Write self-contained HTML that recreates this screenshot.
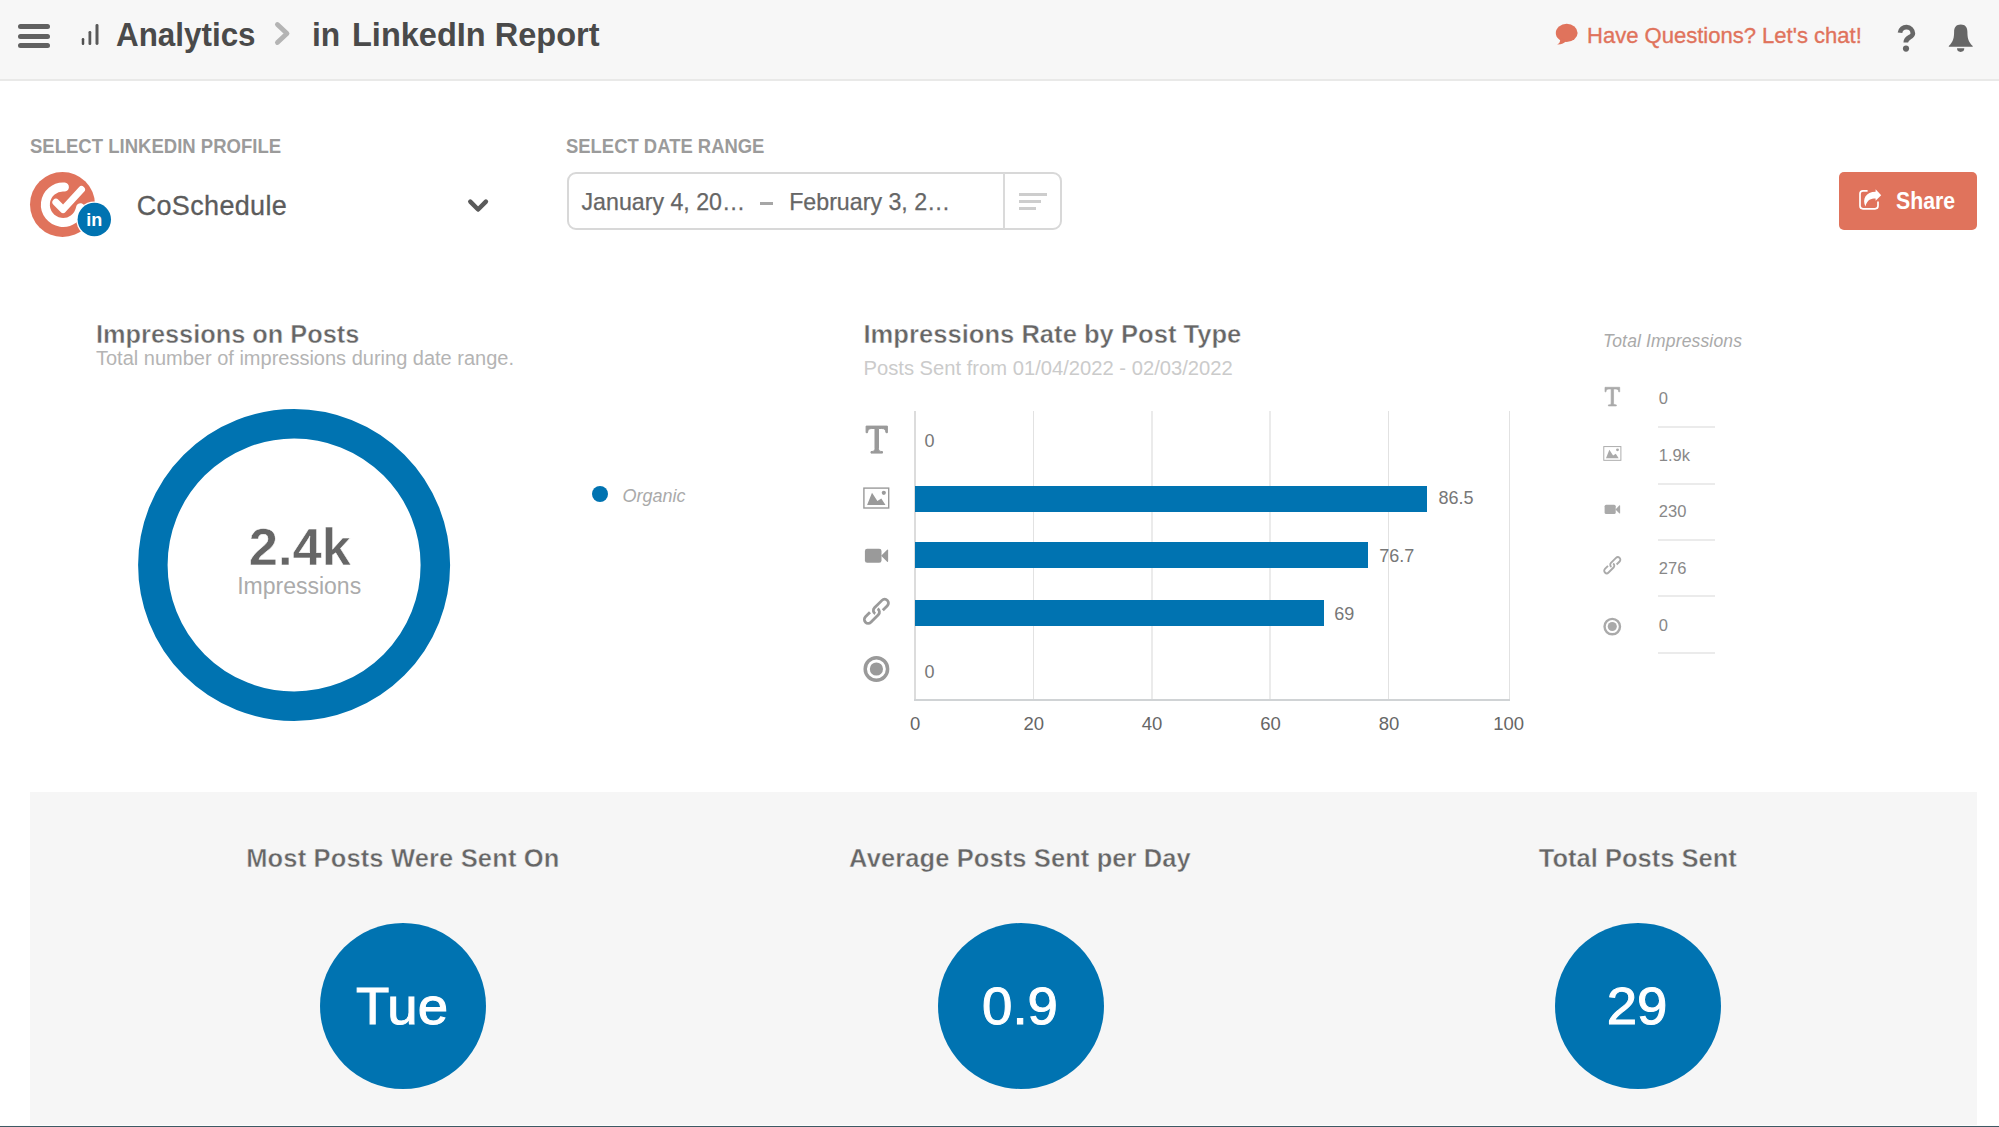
<!DOCTYPE html>
<html>
<head>
<meta charset="utf-8">
<title>LinkedIn Report</title>
<style>
*{box-sizing:border-box;margin:0;padding:0}
html,body{width:1999px;height:1127px;overflow:hidden;background:#fff}
body{font-family:"Liberation Sans",sans-serif;position:relative;color:#666}
.abs{position:absolute;white-space:nowrap;line-height:1;transform-origin:0 50%}
.ctr{transform-origin:50% 50%}
#hdr{position:absolute;left:0;top:0;width:1999px;height:81px;background:#f7f7f7;border-bottom:2px solid #e9e9e8}
.hb{position:absolute;left:18.4px;width:31.2px;height:5px;border-radius:2.5px;background:#606060}
.h1{font-weight:bold;font-size:33.5px;color:#4a4a4a;top:18px}
.lbl{font-weight:bold;font-size:20px;color:#9b9b9b;top:136px}
.ttl{font-weight:bold;font-size:25.6px;color:#666;top:321.6px;-webkit-text-stroke:0.45px #fff}
.dt{font-size:23.2px;color:#666;top:190.8px;-webkit-text-stroke:0.25px #666}
#panel{position:absolute;left:30px;top:792px;width:1947px;height:333px;background:#f6f6f6}
.circ{position:absolute;top:923px;width:166px;height:166px;border-radius:50%;background:#0073b1}
.ct{position:absolute;top:980px;width:166px;color:#fff;text-align:center;font-size:52px;line-height:1;white-space:nowrap;-webkit-text-stroke:1px #fff;transform:scaleX(1.05)}
.pt{font-weight:bold;font-size:25.5px;color:#666;text-align:center;width:600px;top:845.5px;-webkit-text-stroke:0.45px #f6f6f6}
.grid{position:absolute;top:411px;width:1px;height:288px;background:#e2e2e2}
.bar{position:absolute;left:915px;height:26px;background:#0073b1}
.val{font-size:18px;color:#777}
.ax{font-size:18.5px;color:#666;text-align:center;width:60px;top:715px}
.tv{font-size:16.5px;color:#888;left:1658.8px}
.tl{position:absolute;left:1658px;width:57px;height:2px;background:#ebebeb}
</style>
</head>
<body>
<!-- HEADER -->
<div id="hdr"></div>
<div class="hb" style="top:24.2px"></div>
<div class="hb" style="top:33.7px"></div>
<div class="hb" style="top:43px"></div>
<svg class="abs" style="left:80px;top:22px" width="22" height="26" viewBox="0 0 22 26">
 <rect x="1.75" y="16" width="2.5" height="7" rx="1.2" fill="#505050"/>
 <rect x="8.5" y="9" width="2.75" height="14" rx="1.3" fill="#5a5a5a"/>
 <rect x="15.5" y="2" width="3" height="21" rx="1.4" fill="#5a5a5a"/>
</svg>
<div class="abs h1" id="t_an" style="left:115.5px;transform:scaleX(0.937)">Analytics</div>
<svg class="abs" style="left:272px;top:20px" width="22" height="28" viewBox="0 0 22 28">
 <path d="M5.4 4.5 L15 13.5 L5.4 22.5" fill="none" stroke="#b4b4b4" stroke-width="4.8" stroke-linecap="round" stroke-linejoin="round"/>
</svg>
<div class="abs h1" id="t_in" style="left:311.7px;transform:scaleX(0.947)">in</div>
<div class="abs h1" id="t_lr" style="left:352px;transform:scaleX(0.971)">LinkedIn Report</div>

<svg class="abs" style="left:1554px;top:22px" width="26" height="26" viewBox="0 0 26 26">
 <ellipse cx="12.7" cy="10.9" rx="10.9" ry="9.1" fill="#e0735c"/>
 <path d="M6 16 C6.6 19.5 5.6 21.4 3.2 22.5 C7.5 22.6 10.5 21 12.5 19 Z" fill="#e0735c"/>
</svg>
<div class="abs" id="t_hq" style="left:1587.1px;top:24.9px;font-size:22.3px;color:#e0735c;transform:scaleX(0.988);-webkit-text-stroke:0.35px #e0735c">Have Questions? Let's chat!</div>
<svg class="abs" style="left:1890px;top:20px" width="34" height="36" viewBox="0 0 34 36">
 <path d="M10.0 12.8 A6.45 6.45 0 0 1 22.85 13.4 C22.85 17.6 15.8 16.8 15.8 22.5" fill="none" stroke="#676767" stroke-width="4.7"/>
 <circle cx="16" cy="28.55" r="3.1" fill="#676767"/>
</svg>
<svg class="abs" style="left:1947px;top:22px" width="28" height="32" viewBox="0 0 28 32">
 <path d="M13.75 2.6 C9.3 2.6 7.1 5.4 7.1 9.8 C7.1 15.5 6.3 20 1.8 24 V24.7 H25.7 V24 C21.2 20 20.4 15.5 20.4 9.8 C20.4 5.4 18.2 2.6 13.75 2.6 Z" fill="#676767"/>
 <path d="M10 26.3 H17.3 A3.65 3.6 0 0 1 10 26.3 Z" fill="#676767"/>
</svg>

<!-- CONTROLS -->
<div class="abs lbl" id="t_slp" style="left:30px;transform:scaleX(0.926)">SELECT LINKEDIN PROFILE</div>
<svg class="abs" style="left:28px;top:170px" width="86" height="70" viewBox="0 0 86 70">
 <circle cx="34.5" cy="34.5" r="32.5" fill="#e0735c"/>
 <path d="M36.4 17.05 A17.7 17.7 0 1 0 52.5 37.8" fill="none" stroke="#fff" stroke-width="9" stroke-linecap="round"/>
 <path d="M27.9 32.3 L35.1 39.5 L53.5 19.5" fill="none" stroke="#fff" stroke-width="7" stroke-linecap="round" stroke-linejoin="round"/>
 <circle cx="66.3" cy="49.5" r="18" fill="#fff"/>
 <circle cx="66.3" cy="49.5" r="16.7" fill="#0073b1"/>
 <text x="66.2" y="56.2" font-family="Liberation Sans, sans-serif" font-weight="bold" font-size="18" fill="#fff" text-anchor="middle">in</text>
</svg>
<div class="abs" id="t_cs" style="left:136.7px;top:193px;font-size:27px;color:#5c5c5c;letter-spacing:0.33px;-webkit-text-stroke:0.3px #5c5c5c">CoSchedule</div>
<svg class="abs" style="left:464px;top:194px" width="28" height="22" viewBox="0 0 28 22">
 <path d="M6.3 7.7 L14.1 15.5 L21.9 7.7" fill="none" stroke="#5a5a5a" stroke-width="4.5" stroke-linecap="round" stroke-linejoin="round"/>
</svg>

<div class="abs lbl" id="t_sdr" style="left:566.3px;transform:scaleX(0.922)">SELECT DATE RANGE</div>
<div style="position:absolute;left:567px;top:172px;width:495px;height:57.5px;border:2px solid #d8d8d8;border-radius:9px;background:#fff"></div>
<div style="position:absolute;left:1003px;top:173px;width:2px;height:56px;background:#dadada"></div>
<div class="abs dt" id="t_d1" style="left:581.5px">January 4, 20…</div>
<div style="position:absolute;left:760px;top:202px;width:13px;height:3px;background:#a6a6a6"></div>
<div class="abs dt" id="t_d2" style="left:789.2px">February 3, 2…</div>
<div style="position:absolute;left:1019px;top:193px;width:28px;height:3px;background:#cdcdcd"></div>
<div style="position:absolute;left:1019px;top:200px;width:22px;height:3px;background:#cdcdcd"></div>
<div style="position:absolute;left:1019px;top:207px;width:17px;height:3px;background:#cdcdcd"></div>

<div style="position:absolute;left:1839px;top:172px;width:138px;height:58px;border-radius:5px;background:#e0735c"></div>
<svg class="abs" style="left:1858px;top:187px" width="26" height="24" viewBox="0 0 26 24">
 <path d="M9.6 3.8 H5 A3 3 0 0 0 2 6.8 V18.8 A3 3 0 0 0 5 21.8 H17 A3 3 0 0 0 20 18.8 V14.6" fill="none" stroke="#fff" stroke-width="1.7"/>
 <path d="M17.6 2.2 L23.2 8.2 L17.6 13.8 V11.6 C13 11.6 9.4 12.6 7.4 19.4 C3.9 12 8 4.8 17.6 4.8 Z" fill="#fff"/>
</svg>
<div class="abs" id="t_sh" style="left:1895.5px;top:189.5px;font-size:23px;font-weight:bold;color:#fff;transform:scaleX(0.925)">Share</div>

<!-- DONUT -->
<div class="abs ttl" id="t_iop" style="left:95.6px;transform:scaleX(0.99)">Impressions on Posts</div>
<div class="abs" id="t_tn" style="left:96px;top:347.7px;font-size:20px;color:#b4b4b4">Total number of impressions during date range.</div>
<svg class="abs" style="left:130px;top:400px" width="330" height="330" viewBox="0 0 330 330">
 <circle cx="164.1" cy="165" r="141.25" fill="none" stroke="#0073b1" stroke-width="29.5"/>
</svg>
<div class="abs" style="left:99.85px;top:520.5px;width:400px;text-align:center;font-size:52.5px;font-weight:bold;color:#666;-webkit-text-stroke:0.5px #fff"><span id="t_24">2.4k</span></div>
<div class="abs" style="left:99.15px;top:575.1px;width:400px;text-align:center;font-size:23px;color:#ababab"><span id="t_imp">Impressions</span></div>
<div style="position:absolute;left:591.6px;top:486.3px;width:16px;height:16px;border-radius:50%;background:#0073b1"></div>
<div class="abs" id="t_org" style="left:622.5px;top:486.5px;font-size:18px;font-style:italic;color:#aaa">Organic</div>

<!-- BAR CHART -->
<div class="abs ttl" id="t_irp" style="left:863.5px">Impressions Rate by Post Type</div>
<div class="abs" id="t_ps" style="left:863.5px;top:358.2px;font-size:20.2px;color:#cbcbcb">Posts Sent from 01/04/2022 - 02/03/2022</div>
<div class="grid" style="left:914px;width:2px;background:#dcdcdc"></div>
<div class="grid" style="left:1033px"></div>
<div class="grid" style="left:1151px;width:2px;background:#ebebeb"></div>
<div class="grid" style="left:1269px;width:2px;background:#ebebeb"></div>
<div class="grid" style="left:1388px"></div>
<div class="grid" style="left:1509px"></div>
<div style="position:absolute;left:914px;top:698.5px;width:596px;height:2px;background:#d0d3d5"></div>
<div class="bar" style="top:485.7px;width:512.3px"></div>
<div class="bar" style="top:542px;width:453px"></div>
<div class="bar" style="top:599.7px;width:408.5px"></div>
<div class="abs val" id="v0" style="left:924.6px;top:431.7px">0</div>
<div class="abs val" id="v1" style="left:1438.5px;top:489.1px">86.5</div>
<div class="abs val" id="v2" style="left:1379.3px;top:546.8px">76.7</div>
<div class="abs val" id="v3" style="left:1334.3px;top:604.5px">69</div>
<div class="abs val" id="v4" style="left:924.6px;top:662.6px">0</div>
<div class="abs ax" id="a0" style="left:885.2px">0</div>
<div class="abs ax" id="a1" style="left:1003.7px">20</div>
<div class="abs ax" id="a2" style="left:1122px">40</div>
<div class="abs ax" id="a3" style="left:1240.5px">60</div>
<div class="abs ax" id="a4" style="left:1359px">80</div>
<div class="abs ax" id="a5" style="left:1478.6px">100</div>

<svg class="abs" style="left:0;top:0" width="1999" height="760" viewBox="0 0 1999 760"><g transform="translate(866.1 426.1) scale(1)" fill="#9a9a9a" stroke="#9a9a9a"><path d="M0 0 H21.3 V6.6 H19.9 C19.6 3.6 18.6 2.4 15.6 2.4 H12.4 V22.6 C12.4 24.6 13.2 25.3 16.4 25.5 V27 H4.9 V25.5 C8.1 25.3 8.9 24.6 8.9 22.6 V2.4 H5.7 C2.7 2.4 1.7 3.6 1.4 6.6 H0 Z"/></g><g transform="translate(863.2 487.4) scale(1)" fill="#9a9a9a" stroke="#9a9a9a"><rect x="0.7" y="0.7" width="24.8" height="19.9" fill="none" stroke-width="1.4"/><path d="M3.9 17.7 L8.8 5.4 L14.2 13.5 L18.1 11.1 L22.3 17.7 Z" stroke="none"/><circle cx="20.6" cy="5.4" r="2.1" stroke="none"/></g><g transform="translate(864.9 548.7) scale(1)" fill="#9a9a9a" stroke="#9a9a9a"><rect x="0" y="0" width="16.6" height="14" rx="2.3" stroke="none"/><path d="M16.2 7 L22.2 1 Q23.2 0.3 23.2 1.6 V12.4 Q23.2 13.7 22.2 13 Z" stroke="none"/></g><g transform="translate(863.0 598.0) scale(1)" fill="#9a9a9a" stroke="#9a9a9a"><g fill="none" stroke-width="2.8" stroke-linecap="butt"><path transform="translate(17.9 8.8) rotate(-45)" d="M-8.97 0.98 A3.8 3.8 0 0 1 -5.3 -3.8 L5.3 -3.8 A3.8 3.8 0 0 1 5.3 3.8 L-1.1 3.8"/><path transform="translate(8.9 17.8) rotate(135)" d="M-8.97 0.98 A3.8 3.8 0 0 1 -5.3 -3.8 L5.3 -3.8 A3.8 3.8 0 0 1 5.3 3.8 L-1.1 3.8"/></g></g><g transform="translate(863.4 656.0) scale(1)" fill="#9a9a9a" stroke="#9a9a9a"><circle cx="13" cy="13" r="11.2" fill="none" stroke-width="3.5"/><circle cx="13" cy="13" r="6.6" stroke="none"/></g><g transform="translate(1605.0 387.3) scale(0.69)" fill="#aaaaaa" stroke="#aaaaaa"><path d="M0 0 H21.3 V6.6 H19.9 C19.6 3.6 18.6 2.4 15.6 2.4 H12.4 V22.6 C12.4 24.6 13.2 25.3 16.4 25.5 V27 H4.9 V25.5 C8.1 25.3 8.9 24.6 8.9 22.6 V2.4 H5.7 C2.7 2.4 1.7 3.6 1.4 6.6 H0 Z"/></g><g transform="translate(1603.3 446.1) scale(0.69)" fill="#aaaaaa" stroke="#aaaaaa"><rect x="0.7" y="0.7" width="24.8" height="19.9" fill="none" stroke-width="1.4"/><path d="M3.9 17.7 L8.8 5.4 L14.2 13.5 L18.1 11.1 L22.3 17.7 Z" stroke="none"/><circle cx="20.6" cy="5.4" r="2.1" stroke="none"/></g><g transform="translate(1604.6 504.7) scale(0.67)" fill="#aaaaaa" stroke="#aaaaaa"><rect x="0" y="0" width="16.6" height="14" rx="2.3" stroke="none"/><path d="M16.2 7 L22.2 1 Q23.2 0.3 23.2 1.6 V12.4 Q23.2 13.7 22.2 13 Z" stroke="none"/></g><g transform="translate(1603.3 556.3) scale(0.67)" fill="#aaaaaa" stroke="#aaaaaa"><g fill="none" stroke-width="2.8" stroke-linecap="butt"><path transform="translate(17.9 8.8) rotate(-45)" d="M-8.97 0.98 A3.8 3.8 0 0 1 -5.3 -3.8 L5.3 -3.8 A3.8 3.8 0 0 1 5.3 3.8 L-1.1 3.8"/><path transform="translate(8.9 17.8) rotate(135)" d="M-8.97 0.98 A3.8 3.8 0 0 1 -5.3 -3.8 L5.3 -3.8 A3.8 3.8 0 0 1 5.3 3.8 L-1.1 3.8"/></g></g><g transform="translate(1603.3 617.6) scale(0.69)" fill="#aaaaaa" stroke="#aaaaaa"><circle cx="13" cy="13" r="11.2" fill="none" stroke-width="3.5"/><circle cx="13" cy="13" r="6.6" stroke="none"/></g></svg>

<!-- TOTAL IMPRESSIONS -->
<div class="abs" id="t_ti" style="left:1603px;top:333.2px;font-size:17.5px;font-style:italic;color:#aaa;letter-spacing:0.15px">Total Impressions</div>
<div class="abs tv" id="tv0" style="top:390.2px">0</div>
<div class="abs tv" id="tv1" style="top:447.2px">1.9k</div>
<div class="abs tv" id="tv2" style="top:503.3px">230</div>
<div class="abs tv" id="tv3" style="top:559.6px">276</div>
<div class="abs tv" id="tv4" style="top:616.7px">0</div>
<div class="tl" style="top:426px"></div>
<div class="tl" style="top:482.5px"></div>
<div class="tl" style="top:539px"></div>
<div class="tl" style="top:595.3px"></div>
<div class="tl" style="top:652px"></div>

<!-- BOTTOM PANEL -->
<div id="panel"></div>
<div class="abs pt ctr" style="left:102.85px"><span id="p0" style="letter-spacing:0.15px">Most Posts Were Sent On</span></div>
<div class="abs pt ctr" style="left:720px"><span id="p1" style="letter-spacing:0.1px">Average Posts Sent per Day</span></div>
<div class="abs pt ctr" style="left:1337.8px"><span id="p2">Total Posts Sent</span></div>
<div class="circ" style="left:320px"></div>
<div class="circ" style="left:938px"></div>
<div class="circ" style="left:1554.5px"></div>
<div class="ct" style="left:319px"><span id="c0">Tue</span></div>
<div class="ct" style="left:937px"><span id="c1">0.9</span></div>
<div class="ct" style="left:1554.2px"><span id="c2">29</span></div>
<div style="position:absolute;left:0;top:1125px;width:1999px;height:1px;background:#fdfdfd"></div>
<div style="position:absolute;left:0;top:1126px;width:1999px;height:1px;background:#3d5a64"></div>
</body>
</html>
